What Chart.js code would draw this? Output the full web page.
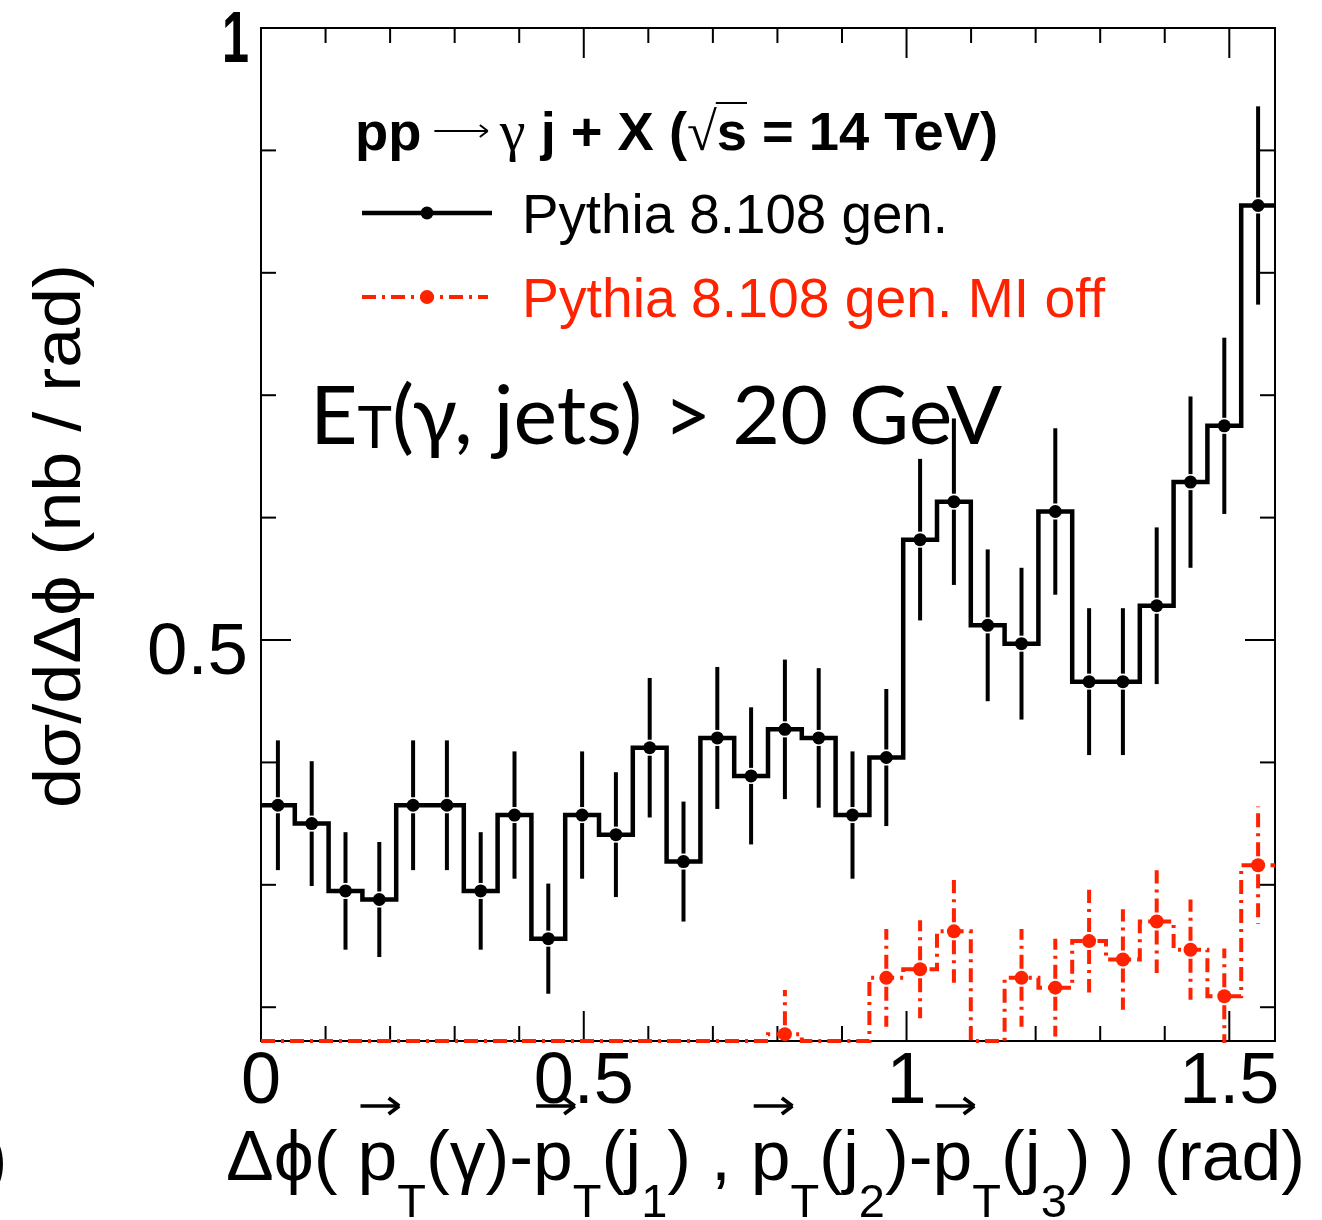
<!DOCTYPE html>
<html lang="en">
<head>
  <meta charset="UTF-8">
  <title>Delta phi gamma + 3 jets</title>
  <script src="https://cdn.jsdelivr.net/npm/chart.js"></script>
  <style>
    body { margin: 0; background: #fff; }
  </style>
</head>
<body>
  <canvas id="myChart" width="1322" height="1220"></canvas>

  <script>
    // binning: 30 bins between 0 and pi/2
    const nBins = 30;
    const phiMax = Math.PI / 2;
    const yMin = 0.1724;
    const yMax = 1;

    // Pythia 8.108 gen.
    const genValues = [0.365, 0.350, 0.295, 0.288, 0.365, 0.365, 0.295, 0.357, 0.256, 0.357,
                       0.341, 0.412, 0.319, 0.420, 0.389, 0.427, 0.420, 0.357, 0.404, 0.582,
                       0.613, 0.512, 0.497, 0.605, 0.466, 0.466, 0.528, 0.629, 0.675, 0.855];
    const genErrors = [0.053, 0.051, 0.048, 0.047, 0.053, 0.053, 0.048, 0.052, 0.045, 0.052,
                       0.051, 0.057, 0.049, 0.058, 0.056, 0.057, 0.057, 0.052, 0.056, 0.066,
                       0.068, 0.062, 0.062, 0.068, 0.060, 0.060, 0.064, 0.070, 0.072, 0.081];

    // Pythia 8.108 gen. MI off (bins below the axis minimum are estimates)
    const miOffValues = [0.10, 0.11, 0.10, 0.12, 0.11, 0.12, 0.11, 0.12, 0.13, 0.12,
                         0.13, 0.12, 0.13, 0.12, 0.13, 0.178, 0.13, 0.13, 0.224, 0.231,
                         0.262, 0.13, 0.224, 0.216, 0.254, 0.239, 0.270, 0.247, 0.209, 0.316];
    const miOffErrors = [0.030, 0.031, 0.030, 0.032, 0.031, 0.032, 0.031, 0.032, 0.033, 0.032,
                         0.033, 0.032, 0.033, 0.032, 0.033, 0.036, 0.033, 0.033, 0.040, 0.040,
                         0.042, 0.033, 0.040, 0.040, 0.042, 0.041, 0.042, 0.041, 0.039, 0.048];

    const xTickValues = [0, 0.5, 1, 1.5];
    const xTickLabels = ['0', '0.5', '1', '1.5'];
    const yTickValues = [0.5, 1];
    const yTickLabels = ['0.5', '1'];
    const minorStep = 0.1;

    const red = '#ff2200';
    const dashDot = [14, 6, 3, 6];
    const sans = '"Liberation Sans", Arial, sans-serif';
    const serif = '"Liberation Serif", "DejaVu Serif", serif';

    const binWidth = phiMax / nBins;

    // histogram outline: two points per bin (low edge, high edge)
    function stepOutline(values) {
      const pts = [];
      values.forEach((v, i) => {
        const y = Math.max(v, yMin);
        pts.push({ x: i * binWidth, y: y });
        pts.push({ x: (i + 1) * binWidth, y: y });
      });
      return pts;
    }

    function markers(values) {
      return values.map((v, i) => ({ x: (i + 0.5) * binWidth, y: v >= yMin ? v : null }));
    }

    function line(ctx, x1, y1, x2, y2) {
      ctx.beginPath();
      ctx.moveTo(x1, y1);
      ctx.lineTo(x2, y2);
      ctx.stroke();
    }

    function arrowLine(ctx, x1, x2, y, head, width) {
      ctx.save();
      ctx.strokeStyle = '#000';
      ctx.lineWidth = width;
      line(ctx, x1, y, x2, y);
      line(ctx, x2, y, x2 - head * 1.3, y - head);
      line(ctx, x2, y, x2 - head * 1.3, y + head);
      ctx.restore();
    }

    // draws a run of text pieces, squeezed to a target width
    function drawRun(ctx, pieces, x0, base, width) {
      let total = 0;
      pieces.forEach(p => {
        ctx.font = p.font || ctx.font;
        p.w = p.space != null ? p.space : ctx.measureText(p.t).width;
        total += p.w;
      });
      const f = width ? width / total : 1;
      ctx.save();
      ctx.translate(x0, base);
      ctx.scale(f, 1);
      ctx.textBaseline = 'alphabetic';
      ctx.textAlign = 'left';
      let cx = 0;
      pieces.forEach(p => {
        if (p.t) {
          ctx.font = p.font;
          ctx.fillStyle = p.color || '#000';
          ctx.fillText(p.t, cx, p.dy || 0);
        }
        if (p.after) p.after(ctx, cx, p.w);
        cx += p.w;
      });
      ctx.restore();
    }

    function errorBars(chart, values, errors, color, dash, width, gap) {
      const { ctx, chartArea: a, scales: { x, y } } = chart;
      ctx.save();
      ctx.beginPath();
      ctx.rect(a.left, a.top - 4, a.right - a.left, a.bottom - a.top + 6);
      ctx.clip();
      ctx.strokeStyle = color;
      ctx.lineWidth = width;
      ctx.setLineDash(dash);
      values.forEach((v, i) => {
        if (errors[i] == null) return;
        const cx = x.getPixelForValue((i + 0.5) * binWidth);
        const yc = y.getPixelForValue(v);
        const yt = y.getPixelForValue(v + errors[i]);
        const yb = y.getPixelForValue(v - errors[i]);
        line(ctx, cx, yc - gap, cx, yt);
        line(ctx, cx, yc + gap, cx, yb);
      });
      ctx.restore();
    }

    const rootStyle = {
      id: 'rootStyle',
      beforeDatasetsDraw(chart) {
        const { ctx, chartArea: a, scales: { x, y } } = chart;
        ctx.save();
        ctx.strokeStyle = '#000';
        ctx.lineWidth = 2;
        ctx.strokeRect(a.left, a.top, a.right - a.left, a.bottom - a.top);

        // x ticks, bottom and top
        for (let k = 1; k * minorStep < phiMax; k++) {
          const px = x.getPixelForValue(k * minorStep);
          const len = k % 5 === 0 ? 30 : 15;
          line(ctx, px, a.bottom, px, a.bottom - len);
          line(ctx, px, a.top, px, a.top + len);
        }
        // y ticks, left and right
        for (let k = Math.ceil(yMin / minorStep); k * minorStep < yMax - 1e-9; k++) {
          const py = y.getPixelForValue(k * minorStep);
          const len = k % 5 === 0 ? 30 : 15;
          line(ctx, a.left, py, a.left + len, py);
          line(ctx, a.right, py, a.right - len, py);
        }
        ctx.restore();
      },
      afterDatasetsDraw(chart) {
        errorBars(chart, miOffValues, miOffErrors, red, dashDot, 4, 9);
        errorBars(chart, genValues, genErrors, '#000', [], 4, 8);
      },
      afterDraw(chart) {
        const { ctx, chartArea: a, scales: { x, y } } = chart;
        ctx.save();
        ctx.fillStyle = '#000';

        // tick labels
        ctx.textBaseline = 'alphabetic';
        ctx.textAlign = 'center';
        ctx.font = '72px ' + sans;
        xTickValues.forEach((v, i) => {
          ctx.fillText(xTickLabels[i], x.getPixelForValue(v), 1103);
        });
        yTickValues.forEach((v, i) => {
          const label = yTickLabels[i];
          if (label === '1') {
            drawRun(ctx, [{ t: label, font: 'bold 72px ' + sans }], 222, y.getPixelForValue(v) + 34, 27);
          } else {
            drawRun(ctx, [{ t: label, font: '72px ' + sans }], 147, y.getPixelForValue(v) + 34, 101);
          }
        });

        // y axis title
        ctx.save();
        ctx.translate(80, 536);
        ctx.rotate(-Math.PI / 2);
        drawRun(ctx, [{ t: 'd\u03c3/d\u0394\u03d5 (nb / rad)', font: '66px ' + sans }], -272, 0, 544);
        ctx.restore();

        // x axis title
        const big = '70px ' + sans;
        const sub = '46px ' + sans;
        const pv = () => ({
          t: 'p', font: big,
          after: (c, cx, w) => arrowLine(c, cx + 3, cx + w + 2, -74, 8, 3.5)
        });
        const ts = () => ({ t: 'T', font: sub, dy: 37 });
        drawRun(ctx, [
          { t: '\u0394\u03d5( ', font: big },
          pv(), ts(),
          { t: '(\u03b3)-', font: big },
          pv(), ts(),
          { t: '(j', font: big }, { t: '1', font: sub, dy: 37 },
          { t: ') , ', font: big },
          pv(), ts(),
          { t: '(j', font: big }, { t: '2', font: sub, dy: 37 },
          { t: ')-', font: big },
          pv(), ts(),
          { t: '(j', font: big }, { t: '3', font: sub, dy: 37 },
          { t: ') ) (rad)', font: big }
        ], 226, 1180, 1079);

        // clipped bracket at the left edge
        ctx.font = big;
        ctx.textAlign = 'left';
        ctx.fillText(')', -16, 1182);

        // process label
        const bold = 'bold 54px ' + sans;
        drawRun(ctx, [
          { t: 'pp', font: bold },
          { space: 78, after: (c, cx, w) => arrowLine(c, cx + 13, cx + 66, -19, 6, 2) },
          { t: '\u03b3', font: '58px ' + serif },
          { t: ' j + X (', font: bold },
          { t: '\u221a', font: '54px ' + serif },
          {
            t: 's', font: bold, after: (c, cx, w) => {
              c.save();
              c.strokeStyle = '#000';
              c.lineWidth = 2;
              line(c, cx - 1, -47, cx + w, -47);
              c.restore();
            }
          },
          { t: ' = 14 TeV)', font: bold }
        ], 355, 150, 643);

        // legend
        ctx.strokeStyle = '#000';
        ctx.lineWidth = 4.5;
        line(ctx, 362, 213, 492, 213);
        ctx.beginPath();
        ctx.arc(427, 213, 6.5, 0, 2 * Math.PI);
        ctx.fill();
        drawRun(ctx, [{ t: 'Pythia 8.108 gen.', font: '55px ' + sans }], 522, 233, 426);

        ctx.strokeStyle = red;
        ctx.fillStyle = red;
        ctx.lineWidth = 4;
        ctx.setLineDash(dashDot);
        line(ctx, 362, 297, 488, 297);
        ctx.setLineDash([]);
        ctx.beginPath();
        ctx.arc(427, 297, 7, 0, 2 * Math.PI);
        ctx.fill();
        drawRun(ctx, [{ t: 'Pythia 8.108 gen. MI off', font: '55px ' + sans, color: red }], 522, 317, 583);

        // cut label
        const lato = '"Lato", "Open Sans", sans-serif';
        drawRun(ctx, [
          { t: 'E', font: '82px ' + lato },
          { t: 'T', font: '58px ' + lato, dy: 4 },
          { t: '(\u03b3, jets) > 20 GeV', font: '82px ' + lato }
        ], 310, 444, 692);

        ctx.restore();
      }
    };

    const ctx = document.getElementById('myChart').getContext('2d');

    new Chart(ctx, {
      type: 'scatter',
      data: {
        datasets: [
          {
            label: 'Pythia 8.108 gen.',
            data: markers(genValues),
            pointRadius: 6.5,
            pointBackgroundColor: '#000',
            pointBorderWidth: 0,
            order: 1
          },
          {
            label: 'Pythia 8.108 gen. MI off',
            data: markers(miOffValues),
            pointRadius: 7,
            pointBackgroundColor: red,
            pointBorderWidth: 0,
            order: 2
          },
          {
            type: 'line',
            label: 'gen. outline',
            data: stepOutline(genValues),
            borderColor: '#000',
            borderWidth: 4.5,
            pointRadius: 0,
            fill: false,
            clip: 6,
            order: 3
          },
          {
            type: 'line',
            label: 'MI off outline',
            data: stepOutline(miOffValues),
            borderColor: red,
            borderWidth: 4,
            borderDash: dashDot,
            pointRadius: 0,
            fill: false,
            clip: 6,
            order: 4
          }
        ]
      },
      options: {
        responsive: false,
        animation: false,
        devicePixelRatio: 1,
        events: [],
        layout: { padding: { left: 261, right: 47, top: 28, bottom: 179 } },
        scales: {
          x: { type: 'linear', min: 0, max: phiMax, display: false },
          y: { type: 'linear', min: yMin, max: yMax, display: false }
        },
        plugins: {
          legend: { display: false },
          tooltip: { enabled: false }
        }
      },
      plugins: [rootStyle]
    });
  </script>
</body>
</html>
